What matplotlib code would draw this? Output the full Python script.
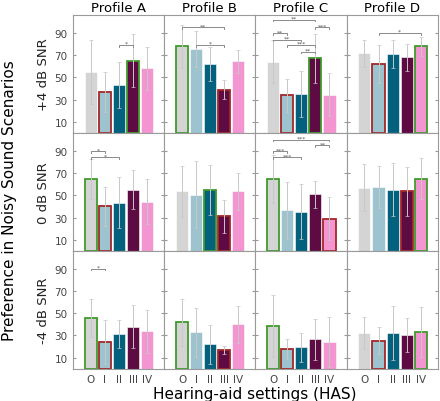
import numpy as np
import matplotlib; matplotlib.use("Agg"); import matplotlib.pyplot as plt

plt.rcParams['font.family'] = ['DejaVu Sans']

settings = ["O", "I", "II", "III", "IV"]
profiles = ["Profile A", "Profile B", "Profile C", "Profile D"]
snr_rows = ["+4 dB SNR", "0 dB SNR", "-4 dB SNR"]
colors = ["#d4d4d4", "#9cc3ce", "#03617d", "#5e0a43", "#f295d0"]

# mean preference, one list per profile (A, B, C, D), order O..IV
pos4_mean = [[55, 37, 43, 65, 58], [78, 75.5, 62, 39, 64.5], [64, 33.8, 35, 67.3, 34.2], [71.5, 62, 71, 68, 77.8]]
pos4_err = [[29, 18, 20.5, 24, 19], [19.5, 16.5, 15, 8.5, 10.5], [19.5, 15, 20.7, 22, 19.3], [12, 17, 12.7, 12, 8.5]]
zero_mean = [[65, 40.3, 43.5, 55, 44.4], [53.5, 50.6, 54.7, 31, 53.5], [64.7, 36.5, 35.3, 51, 29], [57, 57.5, 55, 53.5, 65]]
zero_err = [[18, 17.5, 22.5, 17.5, 20.5], [23, 30, 22.5, 14.5, 16.5], [21.7, 25.5, 24.5, 12, 19.5], [21.5, 18.5, 23.7, 22, 18.7]]
neg4_mean = [[45.6, 24.4, 31, 38, 33.6], [41.7, 32.7, 22, 17, 40], [38.4, 17.5, 19.5, 26.4, 24.3], [32.4, 25.3, 32.4, 30.6, 33.3]]
neg4_err = [[17, 19.7, 12.7, 19.5, 19.5], [21, 22, 17.5, 3.5, 16.5], [28, 9, 13, 18.5, 22.5], [14.3, 12, 24.5, 15.3, 22.7]]

# significance brackets: (from, to, height, stars)
pos4_sig = [[(2, 3, 79, "*")],
            [(0, 3, 95, "**"), (1, 3, 79, "*")],
            [(0, 3, 102, "**"), (3, 4, 95, "***"), (0, 1, 89.5, "**"), (0, 2, 84, "**"),
             (1, 3, 79, "***"), (2, 3, 73, "**")],
            [(1, 4, 90, "*")]]
zero_sig = [[(0, 1, 89.5, "*"), (0, 2, 84, "*")],
            [],
            [(0, 4, 100, "***"), (3, 4, 95, "**"), (0, 1, 89.5, "***"), (0, 2, 84, "***")],
            []]
neg4_sig = [[(0, 1, 90, "*")], [], [], []]

means = [pos4_mean, zero_mean, neg4_mean]
errs = [pos4_err, zero_err, neg4_err]
sigs = [pos4_sig, zero_sig, neg4_sig]

fig, axes = plt.subplots(3, 4, figsize=(4.4, 4.02), dpi=100, sharex=True, sharey=True)
fig.subplots_adjust(left=0.166, right=0.995, top=0.960, bottom=0.080, wspace=0, hspace=0)
x = np.arange(len(settings))
for r in range(3):
    for c in range(4):
        ax = axes[r, c]
        m = np.array(means[r][c]); e = np.array(errs[r][c])
        bars = ax.bar(x, m, width=0.86, color=colors, edgecolor="white", linewidth=0.4, zorder=2)
        bars[int(np.argmax(m))].set_edgecolor("#3f9b2c"); bars[int(np.argmax(m))].set_linewidth(1.3)
        bars[int(np.argmin(m))].set_edgecolor("#a3282a"); bars[int(np.argmin(m))].set_linewidth(1.3)
        ax.errorbar(x, m, yerr=e, fmt="none", ecolor="#c8c8c8", elinewidth=0.7, capsize=1.6, capthick=0.5, zorder=3)
        for i, j, h, s in sigs[r][c]:
            ax.plot([i, i, j, j], [h - 1.5, h, h, h - 1.5], color="#8a8a8a", lw=0.7, zorder=4)
            ax.text((i + j) / 2, h - 0.8, s, ha="center", va="bottom", fontsize=4.5, color="#555555")
        ax.set_xlim(-1.27, 5.22); ax.set_ylim(0, 106)
        ax.set_yticks([10, 30, 50, 70, 90]); ax.set_xticks(x)
        ax.set_xticklabels(settings)
        ax.tick_params(direction="in", length=2, color="#999999", labelcolor="#444444", labelsize=7.5,
                       left=True, right=True, pad=4)
        for sp in ax.spines.values():
            sp.set_color("#9a9a9a"); sp.set_linewidth(0.8)
        if r == 0:
            ax.set_title(profiles[c], fontsize=9.5, pad=3)
        if c == 0:
            ax.set_ylabel(snr_rows[r], fontsize=9.5, color="#222222", labelpad=3)

fig.supylabel("Preference in Noisy Sound Scenarios", x=0.005, y=0.5, fontsize=11)
fig.supxlabel("Hearing-aid settings (HAS)", x=0.58, y=0.0, fontsize=11)
fig.savefig("out.png", dpi=100)
